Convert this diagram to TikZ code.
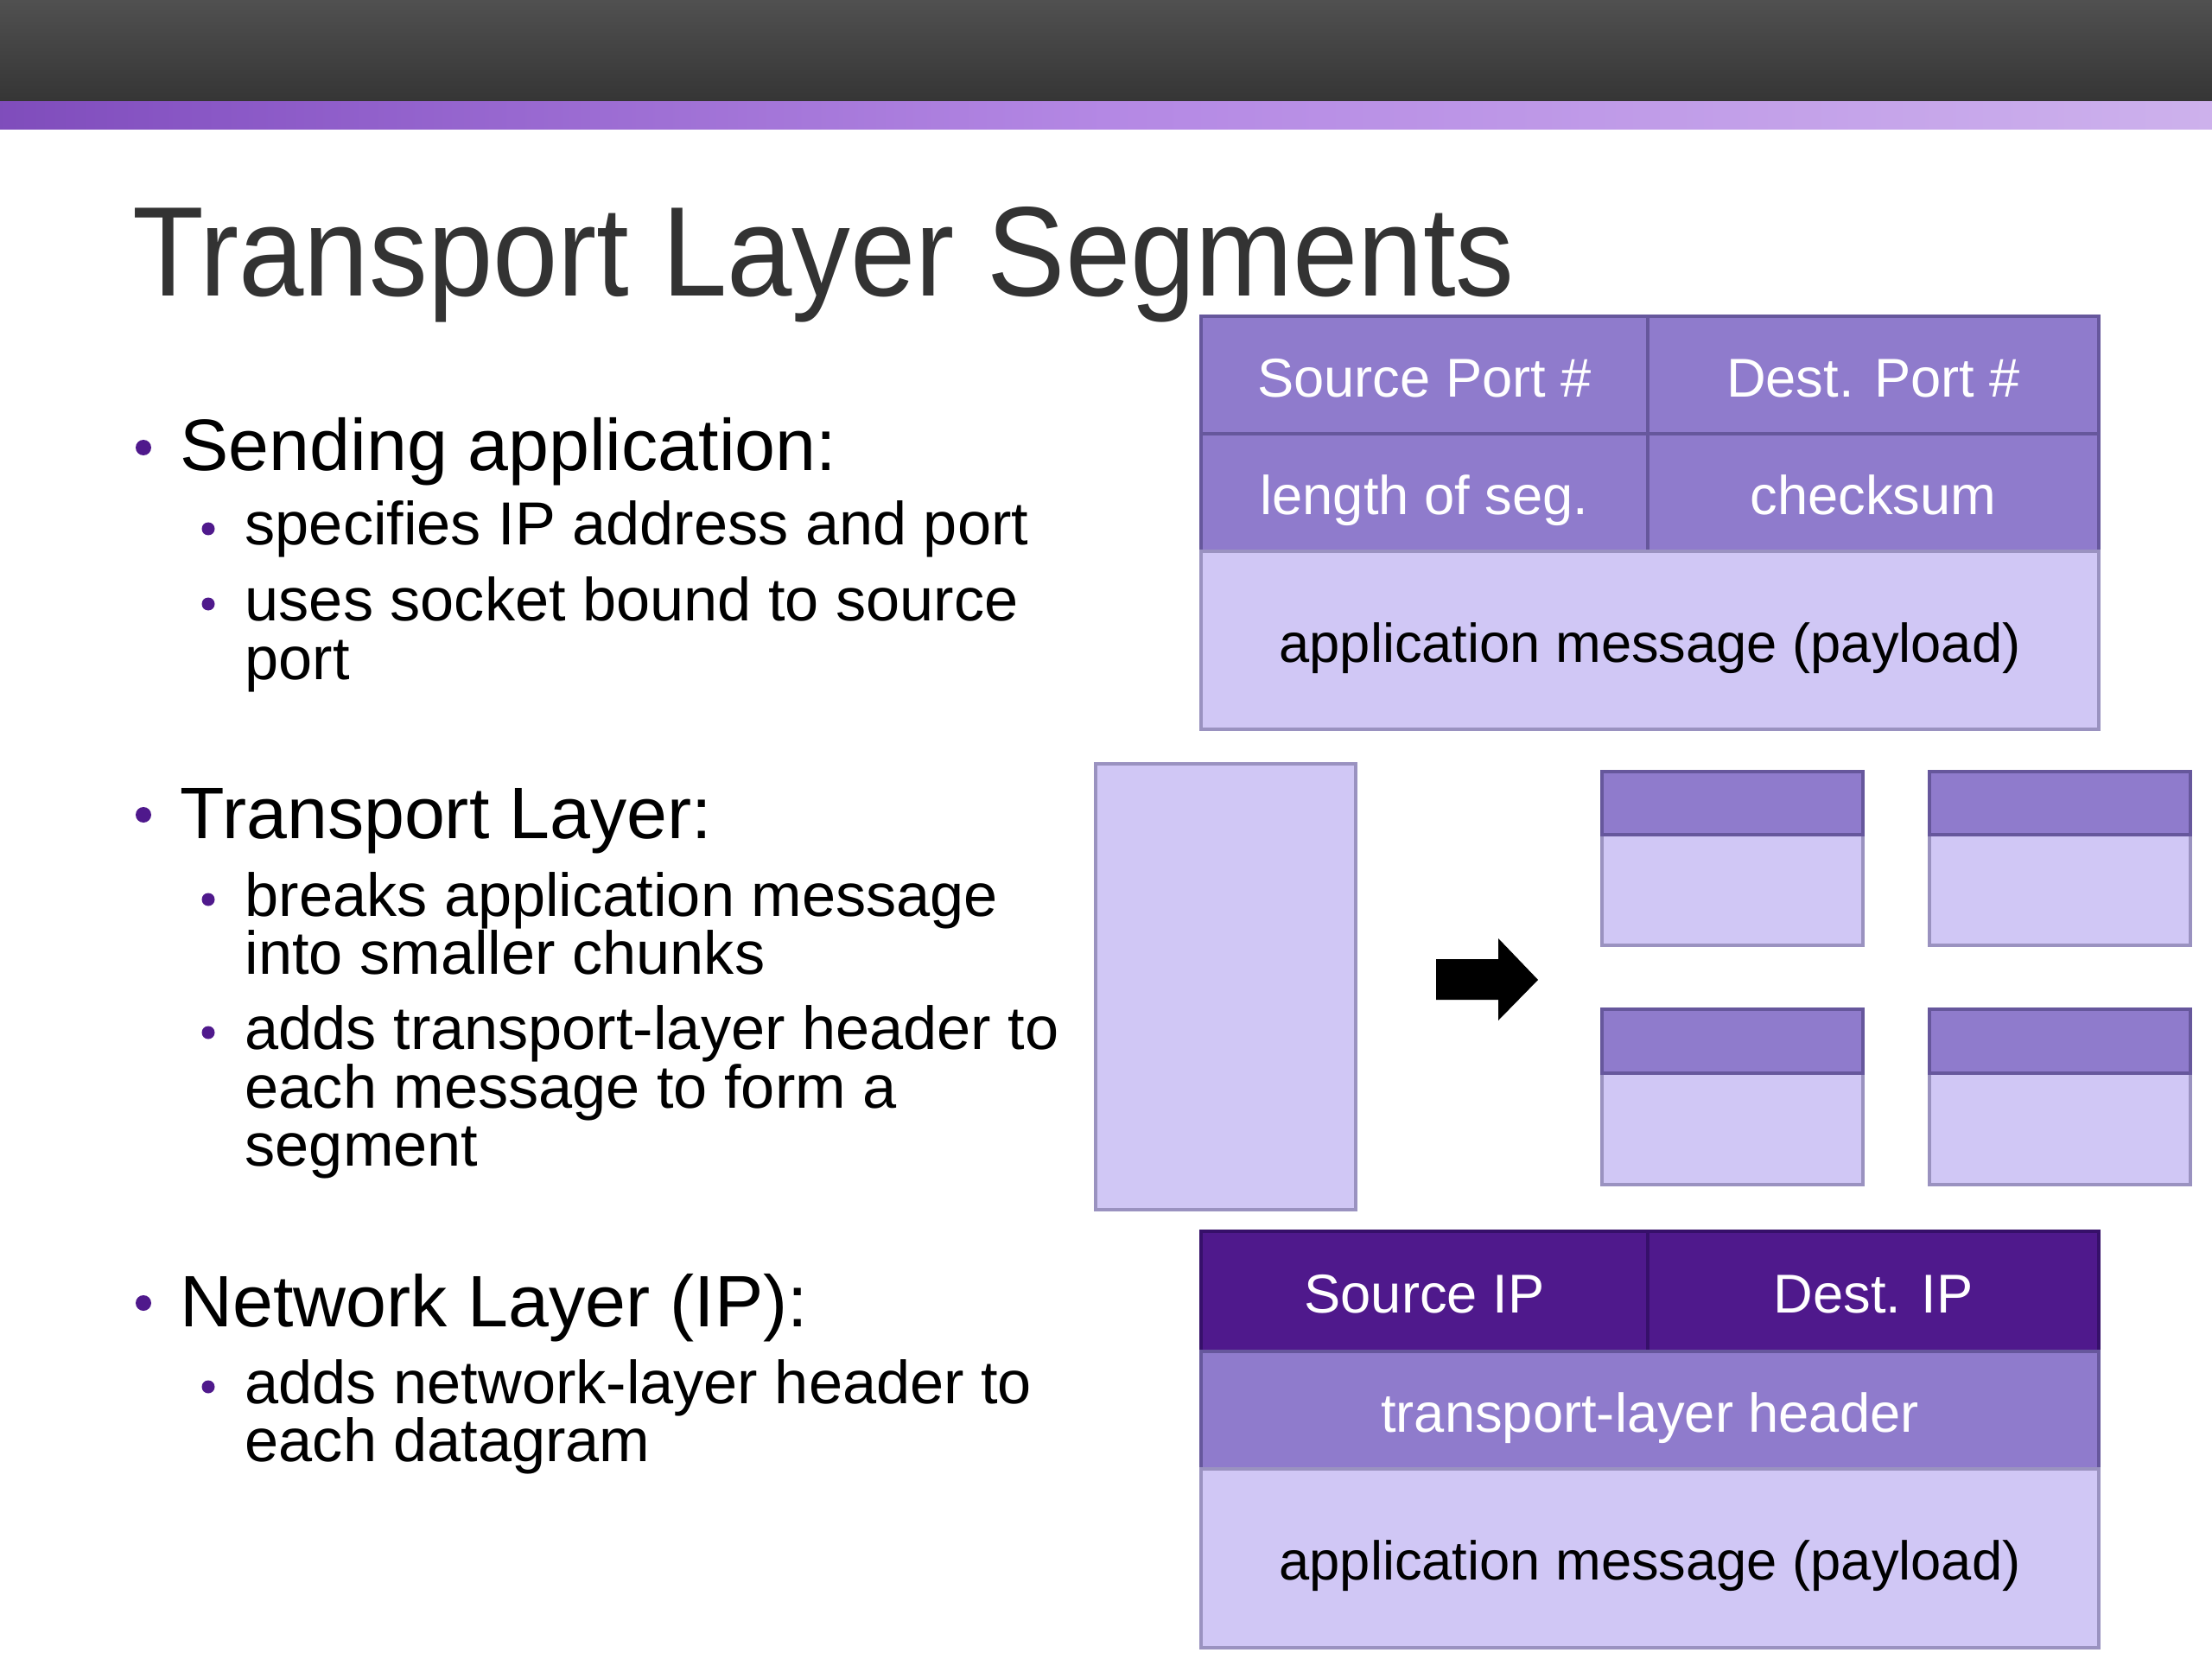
\documentclass[tikz,border=0pt]{standalone}
\usepackage{fontspec}
\setmainfont{Liberation Sans}
\newfontfamily\titlefont[FakeStretch=0.918]{Liberation Sans}
\usetikzlibrary{positioning}

\definecolor{barTop}{HTML}{505050}
\definecolor{barBot}{HTML}{353535}
\definecolor{bandA}{HTML}{4A1486}
\definecolor{bandB}{HTML}{8A58C6}
\definecolor{bandC}{HTML}{B488E4}
\definecolor{bandD}{HTML}{E6DAF5}
\definecolor{hdrPurple}{HTML}{8F7BCC}
\definecolor{hdrBorder}{HTML}{66579C}
\definecolor{payLight}{HTML}{D0C7F5}
\definecolor{payBorder}{HTML}{9A92C0}
\definecolor{ipPurple}{HTML}{4F198C}
\definecolor{ipBorder}{HTML}{36106A}
\definecolor{titleGray}{HTML}{333333}

\pgfdeclarehorizontalshading{bandshade}{100bp}{color(0bp)=(bandA); color(30bp)=(bandB); color(50bp)=(bandC); color(100bp)=(bandD)}

\begin{document}
\begin{tikzpicture}[
    cell/.style={rectangle, draw, line width=1pt, inner sep=0pt, outer sep=0pt,
        anchor=north west, text height=14.5pt, text depth=0pt,
        font=\fontsize{18}{20}\selectfont},
    hdr/.style={cell, fill=hdrPurple, draw=hdrBorder, text=white},
    body/.style={cell, fill=payLight, draw=payBorder, text=black},
    iphdr/.style={cell, fill=ipPurple, draw=ipBorder, text=white},
    lvlone/.style={anchor=base west, inner sep=0pt, font=\fontsize{24}{24}\selectfont},
    lvltwo/.style={anchor=base west, inner sep=0pt, font=\fontsize{20}{20}\selectfont},
    dotone/.style={fill=ipPurple},
]
    \useasboundingbox (0,0) rectangle (25.6,-19.2);
    \fill[white] (0,0) rectangle (25.6,-19.2);

    % slide header
    \shade[top color=barTop, bottom color=barBot] (0,0) rectangle (25.6,-1.18);
    \shade[shading=bandshade] (0,-1.18) rectangle (25.6,-1.50);
    \node[anchor=base west, inner sep=0pt, text=titleGray,
        font=\titlefont\fontsize{42}{42}\selectfont] (title) at (1.53,-3.43) {Transport Layer Segments};

    % bullet text
    \fill[dotone] (1.66,-5.18) circle (0.09);
    \node[lvlone] (send) at (2.08,-5.45) {Sending application:};
    \fill[dotone] (2.41,-6.12) circle (0.075);
    \node[lvltwo] (spec) at (2.83,-6.31) {specifies IP address and port};
    \fill[dotone] (2.41,-6.99) circle (0.075);
    \node[lvltwo] (sock) at (2.83,-7.18) {uses socket bound to source};
    \node[lvltwo] (sockb) at (2.83,-7.86) {port};

    \fill[dotone] (1.66,-9.43) circle (0.09);
    \node[lvlone] (trans) at (2.08,-9.70) {Transport Layer:};
    \fill[dotone] (2.41,-10.41) circle (0.075);
    \node[lvltwo] (brk) at (2.83,-10.60) {breaks application message};
    \node[lvltwo] (brkb) at (2.83,-11.27) {into smaller chunks};
    \fill[dotone] (2.41,-11.95) circle (0.075);
    \node[lvltwo] (add) at (2.83,-12.14) {adds transport-layer header to};
    \node[lvltwo] (addb) at (2.83,-12.82) {each message to form a};
    \node[lvltwo] (addc) at (2.83,-13.49) {segment};

    \fill[dotone] (1.66,-15.08) circle (0.09);
    \node[lvlone] (net) at (2.08,-15.35) {Network Layer (IP):};
    \fill[dotone] (2.41,-16.05) circle (0.075);
    \node[lvltwo] (nadd) at (2.83,-16.24) {adds network-layer header to};
    \node[lvltwo] (naddb) at (2.83,-16.91) {each datagram};

    % transport segment
    \node[hdr, minimum width=5.17cm, minimum height=1.36cm] (sport) at (13.90,-3.66) {Source Port \#};
    \node[hdr, minimum width=5.22cm, minimum height=1.36cm] (dport) at (19.07,-3.66) {Dest. Port \#};
    \node[hdr, minimum width=5.17cm, minimum height=1.36cm] (seglen) at (13.90,-5.02) {length of seg.};
    \node[hdr, minimum width=5.22cm, minimum height=1.36cm] (csum) at (19.07,-5.02) {checksum};
    \node[body, minimum width=10.39cm, minimum height=2.06cm] (tpay) at (13.90,-6.38) {application message (payload)};

    % message split into segments
    \node[body, minimum width=3.01cm, minimum height=5.16cm] (msg) at (12.68,-8.84) {};
    \fill (16.62,-11.10) -- (17.34,-11.10) -- (17.34,-10.86) -- (17.80,-11.34)
        -- (17.34,-11.81) -- (17.34,-11.57) -- (16.62,-11.57) -- cycle;
    \node[body, minimum width=3.02cm, minimum height=1.28cm] (segab) at (18.54,-9.66) {};
    \node[hdr, minimum width=3.02cm, minimum height=0.73cm] (segah) at (18.54,-8.93) {};
    \node[body, minimum width=3.02cm, minimum height=1.28cm] (segbb) at (22.33,-9.66) {};
    \node[hdr, minimum width=3.02cm, minimum height=0.73cm] (segbh) at (22.33,-8.93) {};
    \node[body, minimum width=3.02cm, minimum height=1.29cm] (segcb) at (18.54,-12.42) {};
    \node[hdr, minimum width=3.02cm, minimum height=0.74cm] (segch) at (18.54,-11.68) {};
    \node[body, minimum width=3.02cm, minimum height=1.29cm] (segdb) at (22.33,-12.42) {};
    \node[hdr, minimum width=3.02cm, minimum height=0.74cm] (segdh) at (22.33,-11.68) {};

    % network datagram
    \node[iphdr, minimum width=5.17cm, minimum height=1.39cm] (sip) at (13.90,-14.25) {Source IP};
    \node[iphdr, minimum width=5.22cm, minimum height=1.39cm] (dip) at (19.07,-14.25) {Dest. IP};
    \node[hdr, minimum width=10.39cm, minimum height=1.36cm] (thdr) at (13.90,-15.64) {transport-layer header};
    \node[body, minimum width=10.39cm, minimum height=2.07cm] (npay) at (13.90,-17.00) {application message (payload)};
\end{tikzpicture}
\end{document}
